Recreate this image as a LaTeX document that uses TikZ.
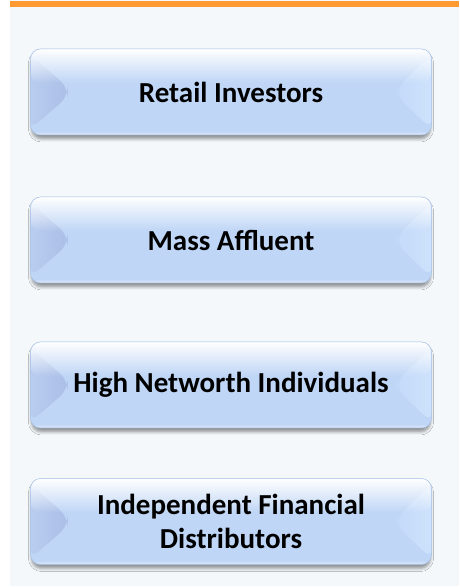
\documentclass[tikz,border=0pt]{standalone}
\usepackage{fontspec}
\setmainfont{Carlito}
\usetikzlibrary{calc,shadows.blur,fadings}
\tikzfading[name=topfade, top color=transparent!0, bottom color=transparent!100]
\tikzfading[name=botfade, top color=transparent!100, bottom color=transparent!0]
\definecolor{bgc}{HTML}{F4F8FB}
\definecolor{orng}{HTML}{FF9A33}
\definecolor{base}{HTML}{BFD6F6}
\definecolor{lfaceA}{HTML}{B9CDF0}
\definecolor{lfaceB}{HTML}{ABBFE7}
\definecolor{rfaceA}{HTML}{C4DAF9}
\definecolor{rfaceB}{HTML}{CEE2FC}
\definecolor{edge}{HTML}{A8C2E6}
\tikzset{
  bevel/.style={rounded corners=10pt, minimum width=401pt, minimum height=86pt,
    inner sep=0pt, align=center, text=black,
    font=\fontsize{29}{34}\selectfont\bfseries, fill=base, draw=edge, line width=0.5pt,
    path picture={
      \coordinate (nw) at (path picture bounding box.north west);
      \coordinate (ne) at (path picture bounding box.north east);
      \coordinate (sw) at (path picture bounding box.south west);
      \coordinate (se) at (path picture bounding box.south east);
      \shade[left color=lfaceA, right color=lfaceB]
        ($(nw)+(0,-6pt)$) -- ($(nw)+(37pt,-38pt)$) -- ($(sw)+(37pt,38pt)$)
        -- ($(sw)+(0,6pt)$) -- cycle;
      \shade[left color=rfaceA, right color=rfaceB]
        ($(ne)+(-34pt,-38pt)$) -- ($(ne)+(0,-6pt)$) -- ($(se)+(0,6pt)$)
        -- ($(se)+(-34pt,38pt)$) -- cycle;
      \fill[white, path fading=topfade] (nw) rectangle ($(ne)+(0,-34pt)$);
      \fill[white, opacity=0.5, path fading=botfade] ($(sw)+(0,4pt)$) rectangle (se);
    }},
  shadowpath/.style={draw=none, fill=none, rounded corners=10pt,
    blur shadow={shadow xshift=0pt, shadow yshift=-4pt, shadow blur radius=3pt,
      shadow opacity=40}}
}
\newcommand\bevelbox[4]{%
  \path[shadowpath] ({#2-199.5},{#3-43}) rectangle ++(399,86);
  \node[bevel] (#1) at (#2,#3) {#4};
}
\begin{document}
\begin{tikzpicture}[x=1pt,y=1pt]
  \useasboundingbox (0,0) rectangle (459,587);
  \fill[bgc] (10,1) rectangle (459,587);
  \fill[orng] (10,580) rectangle (459,586);
  \bevelbox{retail}{231}{495}{Retail Investors}
  \bevelbox{mass}{231}{347}{Mass Affluent}
  \bevelbox{hni}{231}{202}{High Networth Individuals}
  \bevelbox{ifd}{231}{65.5}{Independent Financial\\Distributors}
\end{tikzpicture}
\end{document}
